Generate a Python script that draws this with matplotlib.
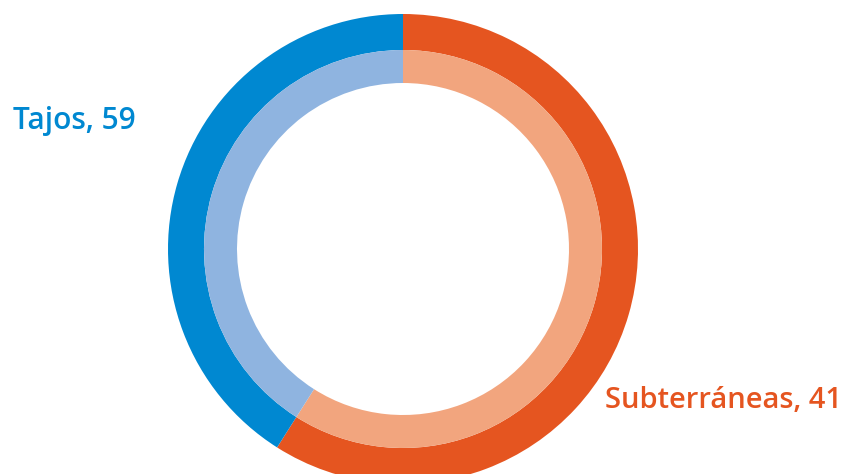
import matplotlib
matplotlib.use("Agg")
import matplotlib.pyplot as plt

categories = ["Subterráneas", "Tajos"]
values = [59, 41]
outer_colors = ["#E55520", "#0088D1"]
inner_colors = ["#F2A57E", "#8FB4E0"]
label_texts = ["Tajos, 59", "Subterráneas, 41"]

W, H = 845, 474
fig = plt.figure(figsize=(W / 100, H / 100), dpi=100)
ax = fig.add_axes([0, 0, 1, 1])
ax.set_xlim(0, W)
ax.set_ylim(0, H)
ax.set_aspect("equal")
ax.axis("off")

cx, cy = 403, H - 249
ax.pie(values, colors=outer_colors, radius=235, center=(cx, cy),
       startangle=90, counterclock=False,
       wedgeprops=dict(width=36, edgecolor="none", linewidth=0))
ax.pie(values, colors=inner_colors, radius=199, center=(cx, cy),
       startangle=90, counterclock=False,
       wedgeprops=dict(width=33, edgecolor="none", linewidth=0))
ax.set_xlim(0, W)
ax.set_ylim(0, H)

ax.text(13, H - 129, label_texts[0], color="#0088D1", fontsize=21.5,
        family=["Open Sans", "DejaVu Sans"], weight="semibold",
        ha="left", va="baseline")
ax.text(605, H - 408, label_texts[1], color="#E55520", fontsize=21,
        family=["Open Sans", "DejaVu Sans"], weight="semibold",
        ha="left", va="baseline")

fig.savefig("out.png", dpi=100)
